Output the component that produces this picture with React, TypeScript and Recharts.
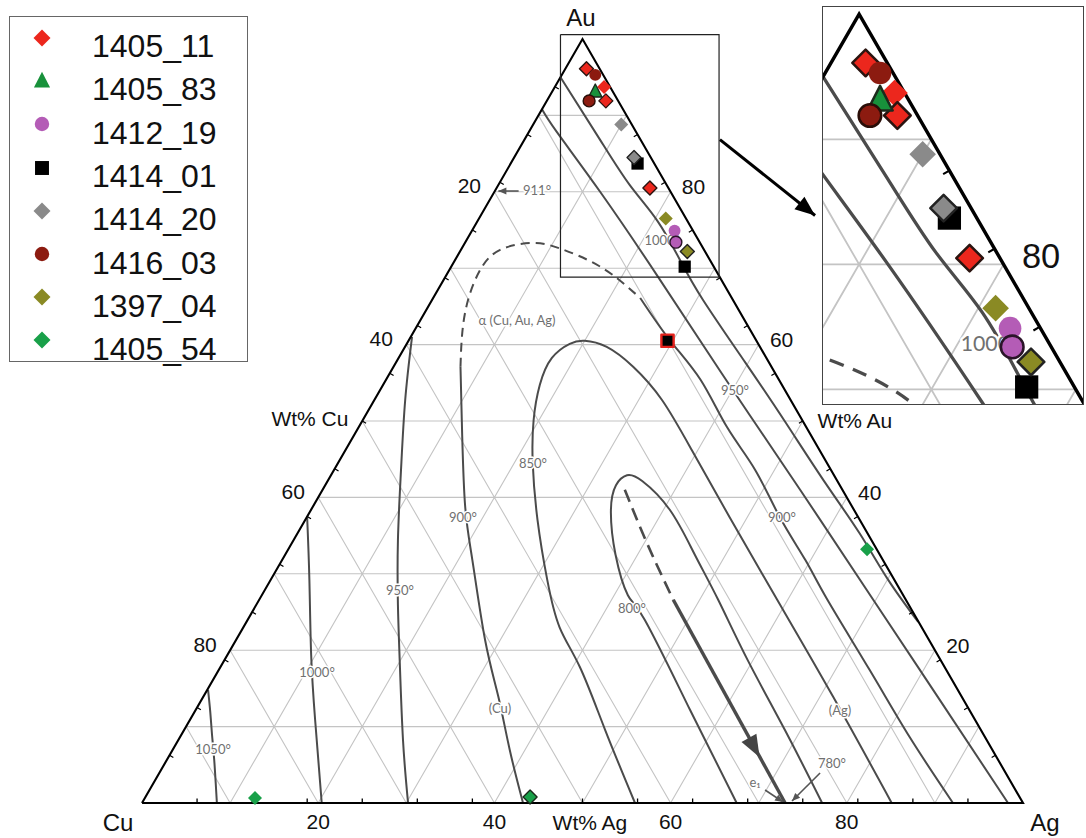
import React from 'react';
import { ComposedChart, XAxis, YAxis, Line, Scatter, Legend } from 'recharts';

type P = [number, number]; // [Au wt%, Ag wt%]  (Cu = 100 - Au - Ag)
type L = [string, number, number]; // [text, Au, Ag]

const SQ = Math.sqrt(3) / 2;
const toXY = (au: number, ag: number) => ({ x: ag + au / 2, y: au * SQ });

// ---------- samples (wt% Au, wt% Ag) ----------
const s1405_11: P[] = [[96.1, 2.4], [93.7, 5.6], [91.9, 6.7], [80.5, 17.4]];
const s1405_83: P[] = [[93.1, 4.9]];
const s1412_19: P[] = [[74.9, 23.0], [73.4, 23.9]];
const s1414_01: P[] = [[83.7, 14.4], [70.2, 26.5], [60.5, 29.4]];
const s1414_20: P[] = [[88.8, 10.0], [84.5, 13.6]];
const s1416_03: P[] = [[95.3, 3.8], [91.9, 4.8]];
const s1397_04: P[] = [[76.5, 21.2], [72.2, 25.8]];
const s1405_54: P[] = [[33.2, 65.7], [0.65, 12.5], [0.8, 43.65]];

// ---------- phase diagram curves (wt% Au, wt% Ag) ----------
const iso1050: P[] = [[14.8, 0.1], [11.9, 1.8], [8.9, 3.5], [5.6, 5.4], [0, 8.5]];
const iso1000Cu: P[] = [[37.3, 0.1], [29.2, 4.4], [19.4, 9.5], [10.9, 14.2], [0, 20.4]];
const iso950Cu: P[] = [[61.0, 0.15], [52.75, 3.5], [43.6, 7.6], [34.4, 11.85], [25.9, 16.1], [18.7, 19.9], [8.25, 25.5], [0, 30.2]];
const iso900Cu: P[] = [[57.1, 7.6], [50.1, 11.25], [39.3, 17.0], [31.8, 21.6], [21.3, 28.3], [13.9, 33.5], [6.9, 38.3], [0, 43.25]];
const alphaDome: P[] = [[57.1, 7.6], [61.5, 5.6], [65.8, 4.1], [69.8, 3.5], [72.4, 4.45], [73.3, 7.7], [72.6, 11.1], [71.1, 15.0], [69.1, 18.9], [66.1, 23.5]];
const iso900Ag: P[] = [[66.1, 23.5], [60.6, 29.6], [55.4, 35.7], [49.2, 41.8], [43.6, 47.8], [37.4, 53.7], [31.8, 59.4], [26.6, 64.5], [17.4, 73.9], [8.6, 82.85], [0, 92.05]];
const iso850: P[] = [[0, 55.96], [9.55, 47.8], [17.8, 40.8], [23.0, 35.9], [29.2, 31.4], [37.0, 26.4], [44.5, 22.1], [50.1, 19.4], [54.7, 17.8], [58.25, 17.4], [60.1, 18.5], [60.5, 20.0], [59.7, 22.9], [57.1, 27.2], [52.75, 32.65], [46.2, 39.3], [37.4, 48.0], [26.6, 58.8], [13.9, 71.5], [0, 85.1]];
const iso800: P[] = [[0, 67.5], [12.2, 56.1], [23.95, 45.1], [27.2, 41.55], [32.5, 37.5], [38.35, 34.05], [41.6, 33.0], [42.9, 33.6], [42.15, 35.7], [38.35, 40.75], [32.5, 46.5], [26.6, 52.1], [18.7, 59.4], [9.55, 68.2], [0, 77.2]];
const iso1000Au: P[] = [[95.0, 0.0], [86.8, 8.6], [80.9, 14.9], [76.2, 20.4], [71.1, 25.5], [65.8, 30.8], [57.7, 39.6], [49.9, 48.05], [42.0, 56.5], [35.3, 63.8], [29.2, 70.1], [23.7, 76.25]];
const iso950Au: P[] = [[90.8, 0.0], [87.8, 3.2], [80.0, 12.0], [69.0, 24.0], [55.2, 38.8], [41.0, 54.2], [26.6, 69.7], [13.5, 83.8], [0, 98.3]];
const troughDashed: P[] = [[41.0, 34.3], [33.8, 40.5], [26.6, 47.0]];
const troughSolid: P[] = [[26.6, 47.0], [0, 73.0]];
const troughArrowTip: P = [6.0, 67.1];

// annotation arrows [from, to]
const arrow911: P[] = [[80.1, 2.7], [80.1, 0.4]];
const arrowE1: P[] = [[1.7, 69.87], [0.13, 72.7]];
const arrow780: P[] = [[3.93, 75.0], [0.26, 73.65]];

// ---------- text ----------
const ISO_LABELS: L[] = [
  ['1050°', 7.07, 4.53], ['1000°', 17.15, 11.29], ['950°', 27.88, 15.34], ['900°', 37.43, 17.72],
  ['850°', 44.5, 22.13], ['(Cu)', 12.43, 34.42], ['α (Cu, Au, Ag)', 63.22, 10.96], ['911°', 80.24, 4.72],
  ['1000°', 73.69, 22.2], ['950°', 54.06, 40.28], ['900°', 37.43, 53.92], ['800°', 25.52, 42.86],
  ['(Ag)', 12.17, 73.14], ['780°', 5.24, 75.7], ['e₁', 2.75, 68.21],
];
const AXIS_TITLES: L[] = [['Wt% Cu', 50.39, -6.13], ['Wt% Au', 50.13, 55.86], ['Wt% Ag', -2.49, 52.09]];
const CORNER_LABELS: L[] = [['Au', 102.75, -1.54], ['Cu', -2.49, -1.48], ['Ag', -2.49, 103.74]];
const AG_TICK_LABELS = [20, 40, 60, 80];
const CU_TICK_LABELS = [20, 40, 60, 80];
const AU_TICK_LABELS = [80, 60, 40, 20];
const GRID_STEPS = [10, 20, 30, 40, 50, 60, 70, 80, 90];
const MINOR_TICKS = [6.25, 12.5, 18.75, 25, 31.25, 37.5, 43.75, 50, 56.25, 62.5, 68.75, 75, 81.25, 87.5, 93.75];

// ---------- sample styling ----------
const SAMPLES = [
  { name: '1405_11', pts: s1405_11, shape: 'diamond', fill: '#ec271d' },
  { name: '1405_83', pts: s1405_83, shape: 'triangle', fill: '#18913b' },
  { name: '1412_19', pts: s1412_19, shape: 'circle', fill: '#b45cb6' },
  { name: '1414_01', pts: s1414_01, shape: 'square', fill: '#000000' },
  { name: '1414_20', pts: s1414_20, shape: 'diamond', fill: '#8a8a8a' },
  { name: '1416_03', pts: s1416_03, shape: 'circle', fill: '#8c1b10' },
  { name: '1397_04', pts: s1397_04, shape: 'diamond', fill: '#8a8a24' },
  { name: '1405_54', pts: s1405_54, shape: 'diamond', fill: '#19a049' },
];
const OUTLINE: Record<string, (string | null)[]> = {
  '1405_11': ['#2a1410', null, '#2a1410', '#2a1410'],
  '1405_83': ['#1c2a1c'],
  '1412_19': [null, '#2a1428'],
  '1414_01': [null, null, '#e4221c'],
  '1414_20': [null, '#222'],
  '1416_03': [null, '#2a0e08'],
  '1397_04': [null, '#222'],
  '1405_54': [null, null, '#1b2a1b'],
};

// ---------- layout ----------
const MAIN = { w: 1086, h: 838, left: 142, base: 803, sx: 8.81, sy: 8.822 };
const MX0 = -MAIN.left / MAIN.sx;
const MX1 = MX0 + MAIN.w / MAIN.sx;
const MY1 = MAIN.base / MAIN.sy;
const MY0 = MY1 - MAIN.h / MAIN.sy;
const INSET = { w: 260, h: 397, x0: 47.5, x1: 65.5, y1: 87.1 };
const ISX = INSET.w / (INSET.x1 - INSET.x0);
const IY0 = INSET.y1 - INSET.h / ISX;
const KI = ISX / MAIN.sx;
const INSET_ARROW = [{ x: 65.6, y: 75.2 }, { x: 76.4, y: 66.6 }];

// ---------- derived tables ----------
const curve = (pts: P[]) => pts.map(([au, ag]) => toXY(au, ag));
const BREAK = { x: 0, y: null as any };
const gridTable = GRID_STEPS.flatMap((k) => [
  toXY(k, 0), toXY(k, 100 - k), BREAK,
  toXY(0, k), toXY(100 - k, k), BREAK,
  toXY(0, 100 - k), toXY(100 - k, 0), BREAK,
]);
const TL = 0.5;
const tickTable = MINOR_TICKS.flatMap((v) => {
  const b = toXY(0, v);
  const l = toXY(v, 0);
  const r = toXY(v, 100 - v);
  return [
    b, { x: b.x, y: b.y + TL }, BREAK,
    l, { x: l.x + 0.866 * TL, y: l.y - 0.5 * TL }, BREAK,
    r, { x: r.x - 0.866 * TL, y: r.y - 0.5 * TL }, BREAK,
  ];
});
const triangleTable = [toXY(0, 0), toXY(0, 100), toXY(100, 0), toXY(0, 0)];
const boxTable = [
  { x: INSET.x0, y: INSET.y1 }, { x: INSET.x1, y: INSET.y1 }, { x: INSET.x1, y: IY0 },
  { x: INSET.x0, y: IY0 }, { x: INSET.x0, y: INSET.y1 },
];
const tickLabelTable = [
  ...AG_TICK_LABELS.map((v) => ({ x: v, y: -2.15, t: String(v) })),
  ...CU_TICK_LABELS.map((v) => { const p = toXY(100 - v, 0); return { x: p.x - 2.84, y: p.y + 0.68, t: String(v) }; }),
  ...AU_TICK_LABELS.map((v) => { const p = toXY(v, 100 - v); return { x: p.x + 2.6, y: p.y + 0.57, t: String(v) }; }),
];
const labelTable = (ls: L[]) => ls.map(([t, au, ag]) => ({ ...toXY(au, ag), t }));
const angleOf = (a: { x: number; y: number }, b: { x: number; y: number }) => Math.atan2(-(b.y - a.y), b.x - a.x);
const headTable = (from: P, to: P, tip: P) => {
  const a = toXY(from[0], from[1]);
  const b = toXY(to[0], to[1]);
  return { ...toXY(tip[0], tip[1]), angle: angleOf(a, b) };
};
const bigHeads = [headTable(troughSolid[0], troughSolid[1], troughArrowTip)];
const smallHeads = [arrow911, arrowE1, arrow780].map((a) => headTable(a[0], a[1], a[1]));
const insetHead = [{ ...INSET_ARROW[1], angle: angleOf(INSET_ARROW[0], INSET_ARROW[1]) }];

// ---------- shapes ----------
function Mark({ cx, cy, shape, r, fill, stroke, sw }: any) {
  const c = { fill, stroke: stroke || 'none', strokeWidth: stroke ? sw : 0, strokeLinejoin: 'round' as const };
  if (shape === 'diamond') return <polygon points={`${cx},${cy - r} ${cx + r},${cy} ${cx},${cy + r} ${cx - r},${cy}`} {...c} />;
  if (shape === 'circle') return <circle cx={cx} cy={cy} r={r * 0.85} {...c} />;
  if (shape === 'square') { const h = r * 0.85; return <rect x={cx - h} y={cy - h} width={2 * h} height={2 * h} {...c} />; }
  return <polygon points={`${cx},${cy - r * 1.1} ${cx + r * 0.95},${cy + r * 0.75} ${cx - r * 0.95},${cy + r * 0.75}`} {...c} />;
}
const markShape = (shape: string, fill: string, r: number, sw: number) => (p: any) =>
  <Mark cx={p.cx} cy={p.cy} shape={shape} r={r} fill={fill} stroke={p.payload.outline} sw={sw} />;

const textShape = (size: number, fill: string, family: string, halo: number) => (p: any) => (
  <text x={p.cx} y={p.cy} textAnchor="middle" dominantBaseline="central" fontSize={size} fill={fill}
    fontFamily={family} stroke={halo ? '#fff' : 'none'} strokeWidth={halo} paintOrder="stroke" strokeLinejoin="round">
    {p.payload.t}
  </text>
);
const headShape = (len: number, half: number, fill: string) => (p: any) => {
  const a = p.payload.angle;
  const ux = Math.cos(a), uy = Math.sin(a);
  const bx = p.cx - ux * len, by = p.cy - uy * len;
  const px = -uy * half, py = ux * half;
  return <polygon points={`${p.cx},${p.cy} ${bx + px},${by + py} ${bx - px},${by - py}`} fill={fill} />;
};

const SANS = 'Liberation Sans, Arial, sans-serif';
const HUMAN = 'Lato, Open Sans, sans-serif';

function LegendBox() {
  return (
    <div style={{ width: 239, height: 346, border: '1px solid #666', boxSizing: 'border-box', background: '#fff', position: 'relative', fontFamily: SANS }}>
      {SAMPLES.map((s, i) => (
        <React.Fragment key={s.name}>
          <svg style={{ position: 'absolute', left: 32 - 12, top: 21 + 43.2 * i - 12 }} width={24} height={24}>
            <Mark cx={12} cy={12} shape={s.shape} r={s.shape === 'square' ? 8.2 : 8.5} fill={s.fill} />
          </svg>
          <div style={{ position: 'absolute', left: 82, top: 11 + 43.3 * i, fontSize: 32, lineHeight: '36px', color: '#111', whiteSpace: 'nowrap' }}>{s.name}</div>
        </React.Fragment>
      ))}
    </div>
  );
}

function Ternary({ w, h, x0, x1, y0, y1, k, mk, inset }: any) {
  const lp = { dot: false, activeDot: false, isAnimationActive: false, legendType: 'none' as const, dataKey: 'y' };
  const isoColor = '#4b4b4b';
  const inView = (d: { x: number; y: number }) => !inset || (d.x >= x0 && d.x <= x1 && d.y >= y0 && d.y <= y1);
  const texts = (t: { x: number; y: number; t: string }[]) => t.filter(inView);
  const curves: { d: P[]; dash?: string; sw: number }[] = [
    { d: iso1050, sw: 2 }, { d: iso1000Cu, sw: 2 }, { d: iso950Cu, sw: 2 }, { d: iso900Cu, sw: 2 },
    { d: alphaDome, sw: 2, dash: '9 6' }, { d: iso900Ag, sw: 2 }, { d: iso850, sw: 2 }, { d: iso800, sw: 2 },
    { d: iso1000Au, sw: 2 }, { d: iso950Au, sw: 2 }, { d: troughDashed, sw: 2.6, dash: '13 7' }, { d: troughSolid, sw: 3.4 },
  ];
  const dash = (s?: string) => (s ? s.split(' ').map((v) => Number(v) * k).join(' ') : undefined);
  return (
    <ComposedChart width={w} height={h} margin={{ top: 0, right: 0, bottom: 0, left: 0 }}>
      <XAxis type="number" dataKey="x" domain={[x0, x1]} allowDataOverflow hide />
      <YAxis type="number" dataKey="y" domain={[y0, y1]} allowDataOverflow hide />
      <Line {...lp} data={gridTable} type="linear" stroke="#c4c4c4" strokeWidth={1.1 * k} />
      {curves.map((c, i) => (
        <Line key={i} {...lp} data={curve(c.d)} type="natural" stroke={isoColor} strokeWidth={c.sw * k} strokeDasharray={dash(c.dash)} />
      ))}
      {[arrow911, arrowE1, arrow780].map((a, i) => (
        <Line key={'a' + i} {...lp} data={curve(a)} type="linear" stroke="#555" strokeWidth={1.6 * k} />
      ))}
      <Line {...lp} data={triangleTable} type="linear" stroke="#000" strokeWidth={2.1 * k} strokeLinejoin="miter" />
      <Line {...lp} data={tickTable} type="linear" stroke="#000" strokeWidth={1.3 * k} />
      {!inset && <Line {...lp} data={boxTable} type="linear" stroke="#222" strokeWidth={1.2} />}
      {!inset && <Line {...lp} data={INSET_ARROW} type="linear" stroke="#000" strokeWidth={3} />}
      {!inset && <Scatter data={insetHead} isAnimationActive={false} legendType="none" shape={headShape(20, 8, '#000')} />}
      <Scatter data={bigHeads} isAnimationActive={false} legendType="none" shape={headShape(22 * k, 8.5 * k, '#444')} />
      <Scatter data={smallHeads} isAnimationActive={false} legendType="none" shape={headShape(8 * k, 3.5 * k, '#555')} />
      <Scatter data={texts(labelTable(ISO_LABELS))} isAnimationActive={false} legendType="none" shape={textShape(13 * k, '#707070', HUMAN, 3 * k)} />
      <Scatter data={texts(tickLabelTable)} isAnimationActive={false} legendType="none" shape={textShape(21 * k, '#111', SANS, 0)} />
      {!inset && <Scatter data={labelTable(AXIS_TITLES)} isAnimationActive={false} legendType="none" shape={textShape(21, '#111', SANS, 0)} />}
      {!inset && <Scatter data={labelTable(CORNER_LABELS)} isAnimationActive={false} legendType="none" shape={textShape(24, '#111', SANS, 0)} />}
      {SAMPLES.map((s) => (
        <Scatter key={s.name} name={s.name} isAnimationActive={false}
          data={s.pts.map(([au, ag], i) => ({ ...toXY(au, ag), outline: OUTLINE[s.name][i] }))}
          shape={markShape(s.shape, s.fill, (s.shape === 'square' ? 7.2 : 7) * mk, (OUTLINE[s.name].includes('#e4221c') ? 2.4 : 1.4) * (mk > 1 ? 1.8 : 1))} />
      ))}
      {!inset && (
        <Legend layout="vertical" align="center" verticalAlign="middle" content={() => <LegendBox />}
          wrapperStyle={{ left: 9, top: 16, width: 239, height: 346 }} />
      )}
    </ComposedChart>
  );
}

export default function App() {
  return (
    <div style={{ position: 'absolute', left: 0, top: 0, width: 1086, height: 838, background: '#fff', overflow: 'hidden' }}>
      <Ternary w={MAIN.w} h={MAIN.h} x0={MX0} x1={MX1} y0={MY0} y1={MY1} k={1} mk={1} inset={false} />
      <div style={{ position: 'absolute', left: 822, top: 6, width: INSET.w, height: INSET.h, border: '1.5px solid #444', background: '#fff', overflow: 'hidden' }}>
        <Ternary w={INSET.w} h={INSET.h} x0={INSET.x0} x1={INSET.x1} y0={IY0} y1={INSET.y1} k={KI} mk={1.9} inset={true} />
      </div>
    </div>
  );
}
